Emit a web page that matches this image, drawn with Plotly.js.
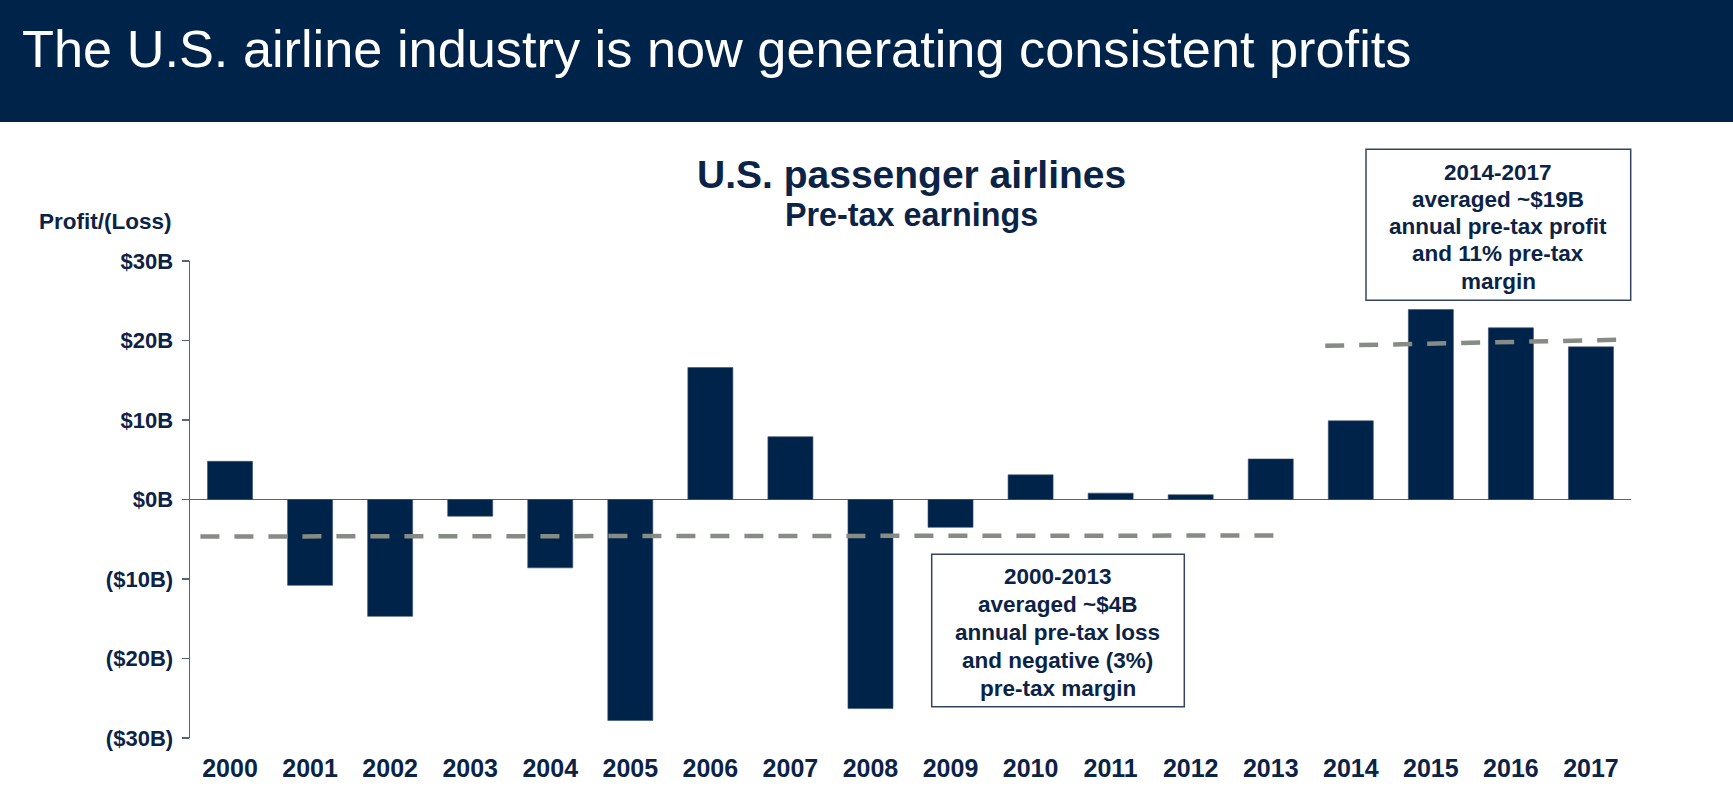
<!DOCTYPE html>
<html>
<head>
<meta charset="utf-8">
<script src="https://cdn.plot.ly/plotly-3.0.1.min.js"></script>
<style>
  html, body { margin: 0; padding: 0; background: #ffffff; }
  #chart { width: 1733px; height: 792px; }
</style>
</head>
<body>
<div id="chart"></div>
<script>
// ---- Data ----
const years = ['2000','2001','2002','2003','2004','2005','2006','2007','2008','2009','2010','2011','2012','2013','2014','2015','2016','2017'];
const pretaxEarningsB = [4.8, -10.8, -14.7, -2.1, -8.6, -27.8, 16.6, 7.9, -26.3, -3.5, 3.1, 0.8, 0.6, 5.1, 9.9, 23.9, 21.6, 19.2];

// Average reference lines (dashed), as drawn: x in year-index units, y in $B
const avg2000to2013X = [-0.37, 13.19];
const avg2000to2013Y = [-4.65, -4.53];
const avg2014to2017X = [13.68, 17.36];
const avg2014to2017Y = [19.33, 20.1];

const yTickVals = [-30, -20, -10, 0, 10, 20, 30];
const yTickText = ['($30B)', '($20B)', '($10B)', '$0B', '$10B', '$20B', '$30B'];

const headerTitle = 'The U.S. airline industry is now generating consistent profits';
const chartTitle = 'U.S. passenger airlines';
const chartSubtitle = 'Pre-tax earnings';
const yAxisLabel = 'Profit/(Loss)';
const note2014Lines = ['2014-2017', 'averaged ~$19B', 'annual pre-tax profit', 'and 11% pre-tax', 'margin'];
const note2000Lines = ['2000-2013', 'averaged ~$4B', 'annual pre-tax loss', 'and negative (3%)', 'pre-tax margin'];

// ---- Styling / layout ----
const NAVY = '#00234a';
const TEXT = '#0b2346';
const AXIS = '#54647e';
const DASH = '#878b86';
const FONT = 'Liberation Sans, Arial, Helvetica, sans-serif';

const M = { l: 190, r: 102, t: 261, b: 54 };
const PW = 1733 - M.l - M.r;
const PH = 792 - M.t - M.b;
const px = v => (v - M.l) / PW;
const py = v => (792 - M.b - v) / PH;

const xIdx = years.map((_, i) => i);

const traces = [
  {
    type: 'bar',
    x: xIdx,
    y: pretaxEarningsB,
    marker: { color: NAVY, line: { color: '#3c5070', width: 0.6 } },
    hoverinfo: 'skip',
    showlegend: false
  },
  {
    type: 'scatter', mode: 'lines',
    x: avg2000to2013X, y: avg2000to2013Y,
    line: { color: DASH, width: 4.5, dash: '19px,15px' },
    hoverinfo: 'skip', showlegend: false
  },
  {
    type: 'scatter', mode: 'lines',
    x: avg2014to2017X, y: avg2014to2017Y,
    line: { color: DASH, width: 4.5, dash: '19px,15px' },
    hoverinfo: 'skip', showlegend: false
  }
];

function noteAnnotations(lines, cx, firstY, step) {
  return lines.map((t, i) => ({
    xref: 'paper', yref: 'paper', x: px(cx), y: py(firstY + i * step),
    xanchor: 'center', yanchor: 'middle', text: t, showarrow: false,
    font: { family: FONT, size: 22.5, color: TEXT, weight: 'bold' }
  }));
}

const layout = {
  width: 1733, height: 792,
  margin: M,
  paper_bgcolor: '#ffffff',
  plot_bgcolor: '#ffffff',
  bargap: 0.4375,
  font: { family: FONT, color: TEXT },
  xaxis: {
    range: [-0.5, 17.5],
    tickmode: 'array', tickvals: xIdx, ticktext: years,
    showline: false, showgrid: false, zeroline: false, ticks: '',
    tickfont: { family: FONT, size: 25, color: TEXT, weight: 'bold' },
    ticklabelstandoff: 13,
    fixedrange: true
  },
  yaxis: {
    range: [-30, 30],
    tickmode: 'array', tickvals: yTickVals, ticktext: yTickText,
    showline: true, linecolor: AXIS, linewidth: 1.5,
    ticks: 'outside', ticklen: 7, tickcolor: AXIS, tickwidth: 1.5,
    showgrid: false,
    zeroline: true, zerolinecolor: AXIS, zerolinewidth: 1.5,
    tickfont: { family: FONT, size: 22, color: TEXT, weight: 'bold' },
    ticklabelstandoff: 4,
    fixedrange: true
  },
  shapes: [
    { type: 'rect', xref: 'paper', yref: 'paper', layer: 'below',
      x0: px(0), x1: px(1733), y0: py(0), y1: py(122),
      fillcolor: NAVY, line: { width: 0 } },
    { type: 'rect', xref: 'paper', yref: 'paper',
      x0: px(1366), x1: px(1630.7), y0: py(149.3), y1: py(300.3),
      fillcolor: 'rgba(255,255,255,0)', line: { color: '#34445f', width: 1.5 } },
    { type: 'rect', xref: 'paper', yref: 'paper',
      x0: px(931.7), x1: px(1184.3), y0: py(554.3), y1: py(706.7),
      fillcolor: 'rgba(255,255,255,0)', line: { color: '#34445f', width: 1.5 } }
  ],
  annotations: [
    { xref: 'paper', yref: 'paper', x: px(20), y: py(49), xanchor: 'left', yanchor: 'middle',
      text: headerTitle, showarrow: false,
      font: { family: FONT, size: 52.3, color: '#ffffff' } },
    { xref: 'paper', yref: 'paper', x: px(911), y: py(174), xanchor: 'center', yanchor: 'middle',
      text: chartTitle, showarrow: false,
      font: { family: FONT, size: 39, color: TEXT, weight: 'bold' } },
    { xref: 'paper', yref: 'paper', x: px(911), y: py(215), xanchor: 'center', yanchor: 'middle',
      text: chartSubtitle, showarrow: false,
      font: { family: FONT, size: 32.3, color: TEXT, weight: 'bold' } },
    { xref: 'paper', yref: 'paper', x: px(174), y: py(221), xanchor: 'right', yanchor: 'middle',
      text: yAxisLabel, showarrow: false,
      font: { family: FONT, size: 22.5, color: TEXT, weight: 'bold' } }
  ].concat(
    noteAnnotations(note2014Lines, 1498.3, 172, 27.3),
    noteAnnotations(note2000Lines, 1057.7, 576, 28)
  )
};

Plotly.newPlot('chart', traces, layout, { staticPlot: true, displayModeBar: false });
</script>
</body>
</html>
